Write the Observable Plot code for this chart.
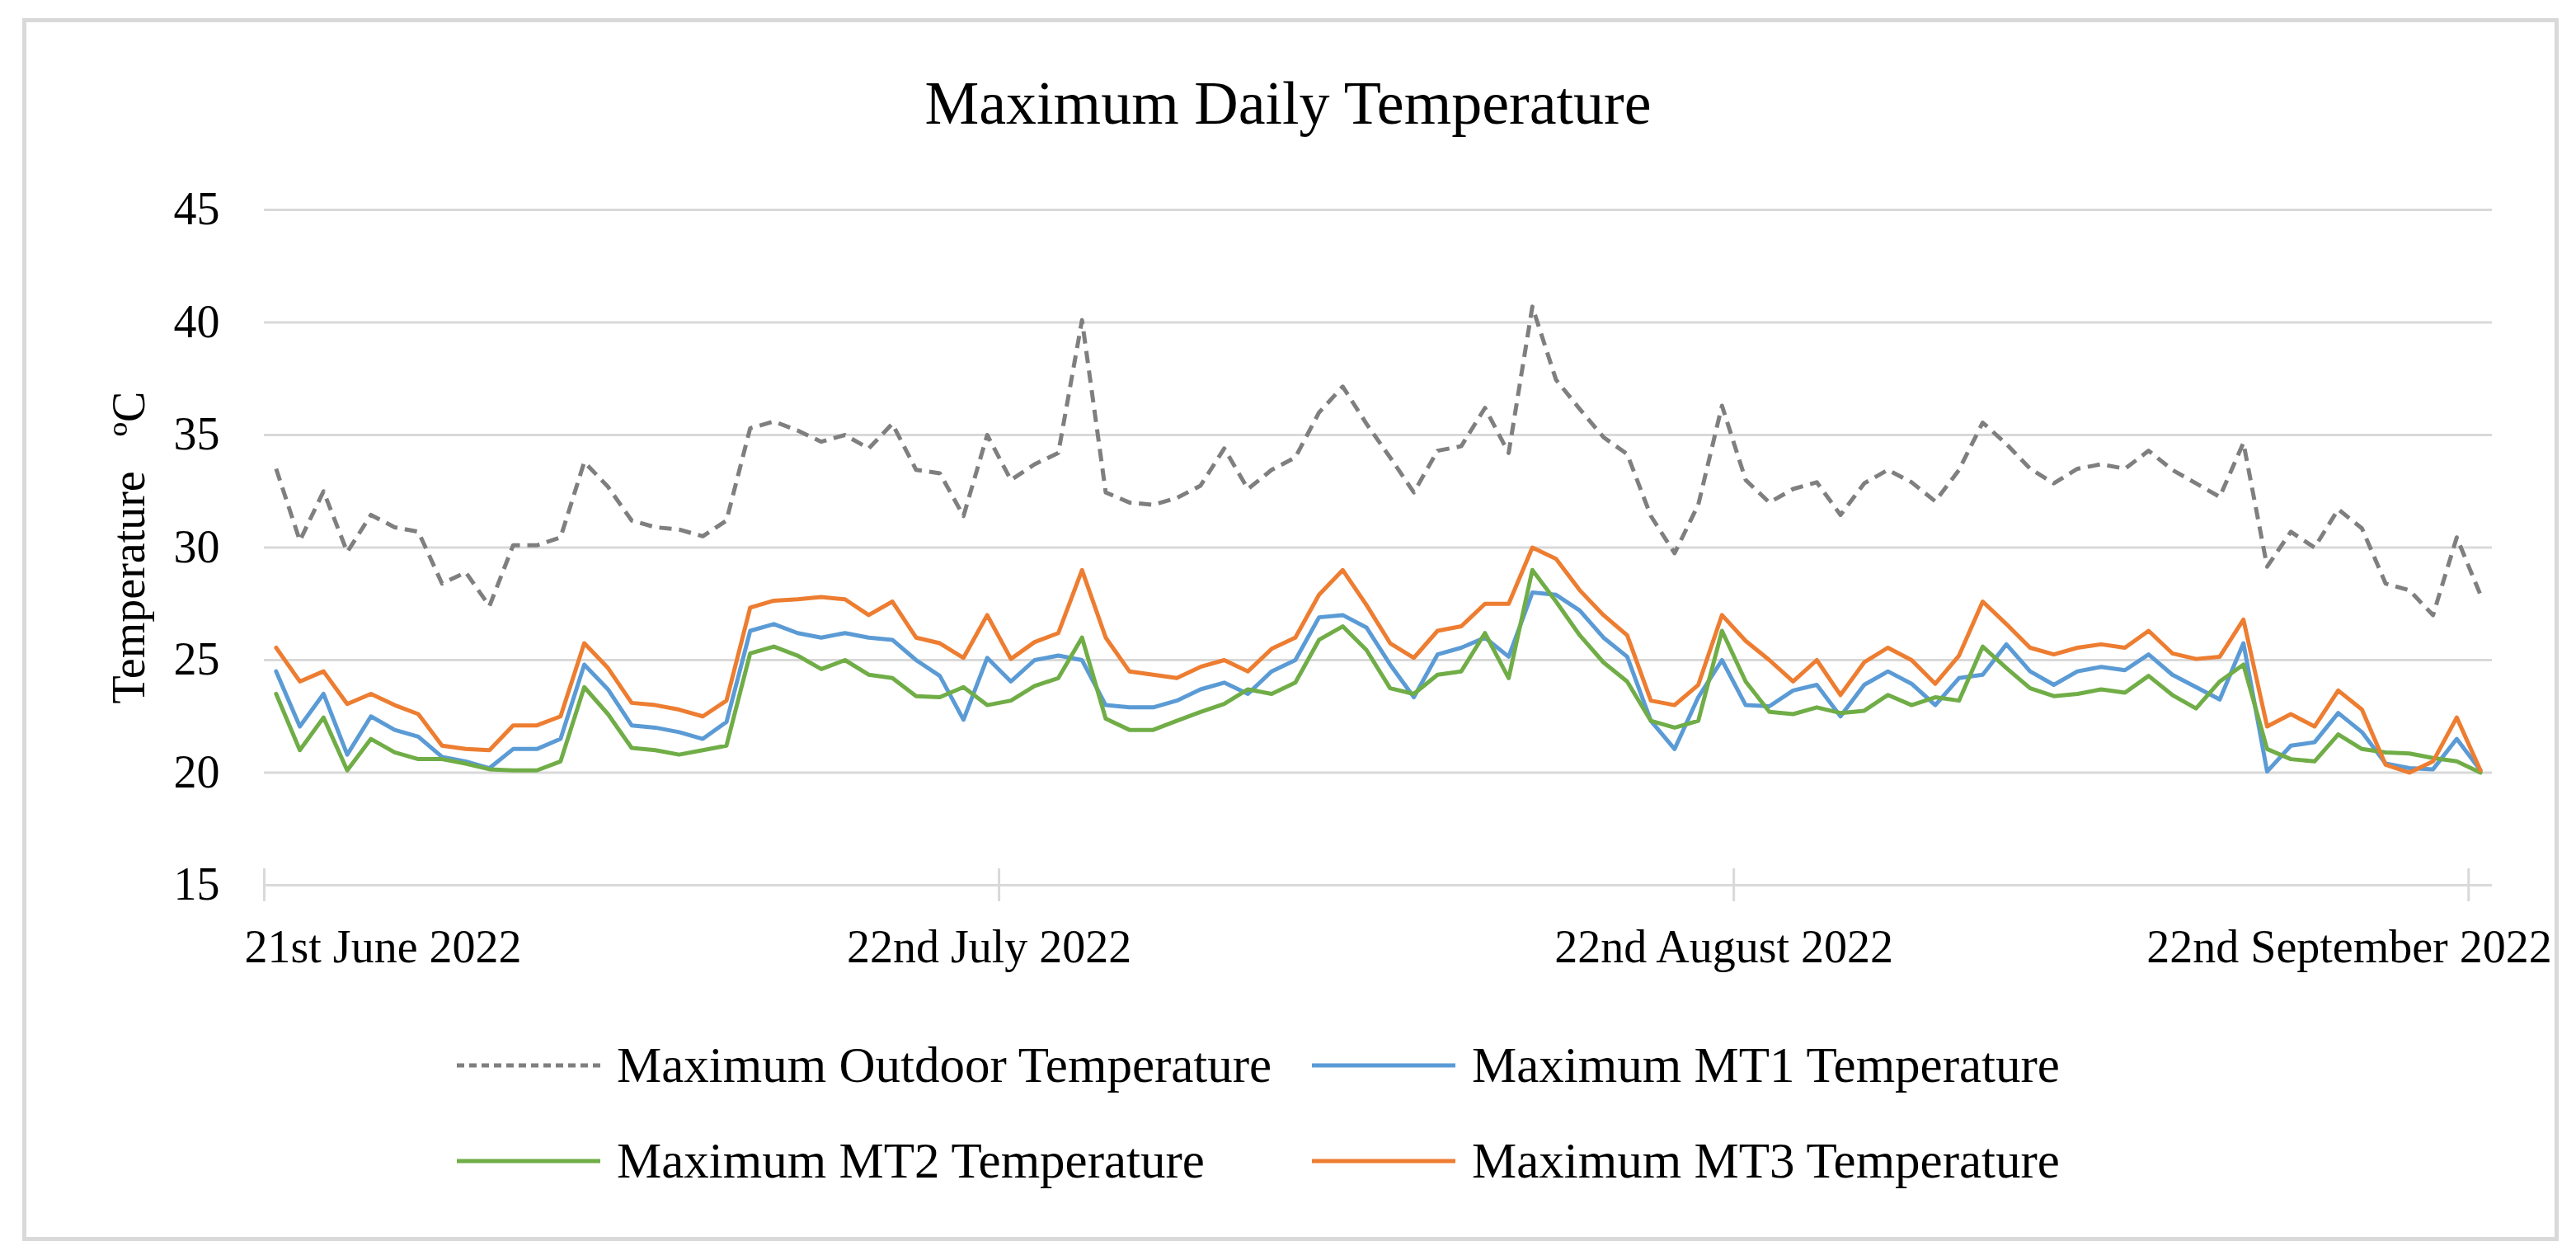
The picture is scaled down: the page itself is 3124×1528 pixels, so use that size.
<!DOCTYPE html>
<html><head><meta charset="utf-8">
<script src="https://cdn.jsdelivr.net/npm/d3@7"></script>
<script src="https://cdn.jsdelivr.net/npm/@observablehq/plot@0.6"></script>
<style>
html,body{margin:0;padding:0;background:#fff;}
#wrap{position:relative;width:3124px;height:1528px;background:#fff;font-family:"Liberation Serif",serif;color:#000;overflow:hidden;}
#frame{position:absolute;left:27px;top:22px;width:3066px;height:1473px;border:5px solid #d9d9d9;}
#title{position:absolute;left:0;width:3124px;top:88px;text-align:center;font-size:74px;line-height:74px;}
#chart{position:absolute;left:0;top:180px;}
#legend{position:absolute;left:554px;top:1234px;display:grid;grid-template-columns:1037px auto;grid-auto-rows:116px;}
.item{display:flex;align-items:center;font-size:61px;white-space:nowrap;}
.item svg{margin-right:20px;display:block;}
</style></head><body>
<div id="wrap"><div id="frame"></div><div id="title">Maximum Daily Temperature</div><div id="chart"></div><div id="legend"></div></div>
<script>
// ---- data ----
const seriesNames = ["Maximum Outdoor Temperature", "Maximum MT1 Temperature", "Maximum MT2 Temperature", "Maximum MT3 Temperature"];
const seriesColors = ["#7f7f7f", "#5b9bd5", "#70ad47", "#ed7d31"];
const firstDay = new Date(Date.UTC(2022, 5, 21));
const endDay = new Date(Date.UTC(2022, 8, 23));
const xTickDates = [new Date(Date.UTC(2022, 5, 21)), new Date(Date.UTC(2022, 6, 22)), new Date(Date.UTC(2022, 7, 22)), new Date(Date.UTC(2022, 8, 22))];
const xTickLabels = ["21st June 2022", "22nd July 2022", "22nd August 2022", "22nd September 2022"];
const yTicks = [15, 20, 25, 30, 35, 40, 45];

const outdoor = [33.5,30.3,32.5,29.8,31.45,30.9,30.7,28.4,28.9,27.4,30.1,30.1,30.45,33.8,32.7,31.2,30.9,30.8,30.5,31.2,
35.3,35.6,35.2,34.7,35.0,34.4,35.5,33.45,33.3,31.4,35.0,33.0,33.7,34.2,40.1,32.45,32.0,31.9,32.2,32.75,
34.4,32.6,33.45,34.0,36.0,37.15,35.5,34.0,32.45,34.3,34.5,36.2,34.2,40.7,37.45,36.15,34.9,34.15,31.4,29.75,
31.9,36.3,33.0,32.0,32.6,32.9,31.45,32.85,33.45,32.9,32.05,33.45,35.55,34.6,33.5,32.85,33.5,33.7,33.5,34.3,
33.45,32.85,32.25,34.65,29.15,30.7,30.0,31.7,30.85,28.4,28.1,27.0,30.45,27.9];
const mt1 = [24.5,22.05,23.5,20.8,22.5,21.9,21.6,20.7,20.5,20.2,21.05,21.05,21.5,24.8,23.7,22.1,22.0,21.8,21.5,22.25,
26.3,26.6,26.2,26.0,26.2,26.0,25.9,25.0,24.3,22.35,25.1,24.05,25.0,25.2,25.0,23.0,22.9,22.9,23.2,23.7,
24.0,23.5,24.5,25.0,26.9,27.0,26.45,24.8,23.35,25.25,25.55,26.0,25.15,28.0,27.9,27.2,26.0,25.15,22.3,21.05,
23.35,25.0,23.0,22.95,23.65,23.9,22.5,23.9,24.5,23.95,23.0,24.2,24.35,25.7,24.5,23.9,24.5,24.7,24.55,25.25,
24.35,23.8,23.25,25.75,20.05,21.2,21.35,22.65,21.8,20.4,20.2,20.15,21.5,20.1];
const mt2 = [23.5,21.0,22.45,20.1,21.5,20.9,20.6,20.6,20.4,20.15,20.1,20.1,20.5,23.8,22.6,21.1,21.0,20.8,21.0,21.2,
25.3,25.6,25.2,24.6,25.0,24.35,24.2,23.4,23.35,23.8,23.0,23.2,23.85,24.2,26.0,22.4,21.9,21.9,22.3,22.7,
23.05,23.7,23.5,24.0,25.9,26.5,25.45,23.75,23.5,24.35,24.5,26.2,24.2,29.0,27.6,26.1,24.9,24.05,22.3,22.0,
22.3,26.3,24.05,22.7,22.6,22.9,22.65,22.75,23.45,23.0,23.35,23.2,25.6,24.65,23.75,23.4,23.5,23.7,23.55,24.3,
23.45,22.85,24.05,24.8,21.05,20.6,20.5,21.7,21.05,20.9,20.85,20.65,20.5,20.0];
const mt3 = [25.55,24.05,24.5,23.05,23.5,23.0,22.6,21.2,21.05,21.0,22.1,22.1,22.5,25.75,24.65,23.1,23.0,22.8,22.5,23.2,
27.33,27.64,27.7,27.8,27.7,27.0,27.6,26.0,25.75,25.1,27.0,25.05,25.8,26.2,29.0,26.0,24.5,24.35,24.2,24.7,
25.0,24.5,25.5,26.0,27.9,29.0,27.45,25.75,25.1,26.3,26.5,27.5,27.5,30.0,29.5,28.1,27.0,26.1,23.2,23.0,
23.9,27.0,25.85,25.0,24.05,25.0,23.45,24.9,25.55,25.0,23.95,25.2,27.6,26.6,25.55,25.25,25.55,25.7,25.55,26.3,
25.3,25.05,25.15,26.8,22.05,22.6,22.05,23.65,22.8,20.35,20.0,20.5,22.45,20.1];

// ---- build ----
const days = d3.utcDay.range(firstDay, endDay);
const seriesValues = [outdoor, mt1, mt2, mt3];
const rows = seriesValues.map((vals, s) => vals.map((v, i) => ({series: seriesNames[s], date: d3.utcHour.offset(days[i], 12), value: v})));
const labelOf = d => xTickLabels[xTickDates.findIndex(t => +t === +d)];

const lineMark = (s) => Plot.line(rows[s], {
  x: "date", y: "value", stroke: seriesColors[s], strokeWidth: 5,
  strokeDasharray: s === 0 ? "15,9" : null, strokeLinecap: s === 0 ? "butt" : "round", strokeLinejoin: "round"
});

const chart = Plot.plot({
  width: 3124, height: 1020,
  marginTop: 74, marginBottom: 127, marginLeft: 320, marginRight: 102,
  style: {fontFamily: "'Liberation Serif', serif", fontSize: "56px", color: "#000", background: "transparent", overflow: "visible"},
  x: {type: "utc", domain: [firstDay, endDay]},
  y: {domain: [15, 45]},
  marks: [
    Plot.gridY(yTicks, {stroke: "#d9d9d9", strokeOpacity: 1, strokeWidth: 3}),
    Plot.ruleX(xTickDates, {x: d => d, y1: 14.27, y2: 15.73, stroke: "#d9d9d9", strokeWidth: 3}),
    Plot.axisY(yTicks, {tickSize: 0, tickPadding: 54, tickFormat: d => String(d), fontSize: 56,
      label: "Temperature\u00a0\u00a0\u00a0\u00baC", labelAnchor: "center", labelArrow: "none", labelOffset: 185}),
    Plot.axisX(xTickDates.slice(0, 1), {tickSize: 0, tickPadding: 54, tickFormat: labelOf, textAnchor: "start", dx: -24, fontSize: 56, label: null}),
    Plot.axisX(xTickDates.slice(1, 3), {tickSize: 0, tickPadding: 54, tickFormat: labelOf, dx: -12, fontSize: 56, label: null}),
    Plot.axisX(xTickDates.slice(3), {tickSize: 0, tickPadding: 54, tickFormat: labelOf, textAnchor: "end", dx: 101, fontSize: 56, label: null}),
    lineMark(0), lineMark(1), lineMark(2), lineMark(3)
  ]
});
document.getElementById("chart").appendChild(chart);

// ---- legend ----
const legend = d3.select("#legend");
seriesNames.forEach((name, s) => {
  const item = legend.append("div").attr("class", "item");
  const sw = item.append("svg").attr("width", 174).attr("height", 20);
  sw.append("line").attr("x1", 0).attr("x2", 174).attr("y1", 10).attr("y2", 10)
    .attr("stroke", seriesColors[s]).attr("stroke-width", 5)
    .attr("stroke-dasharray", s === 0 ? "9,6" : null);
  item.append("span").text(name);
});
</script></body></html>
